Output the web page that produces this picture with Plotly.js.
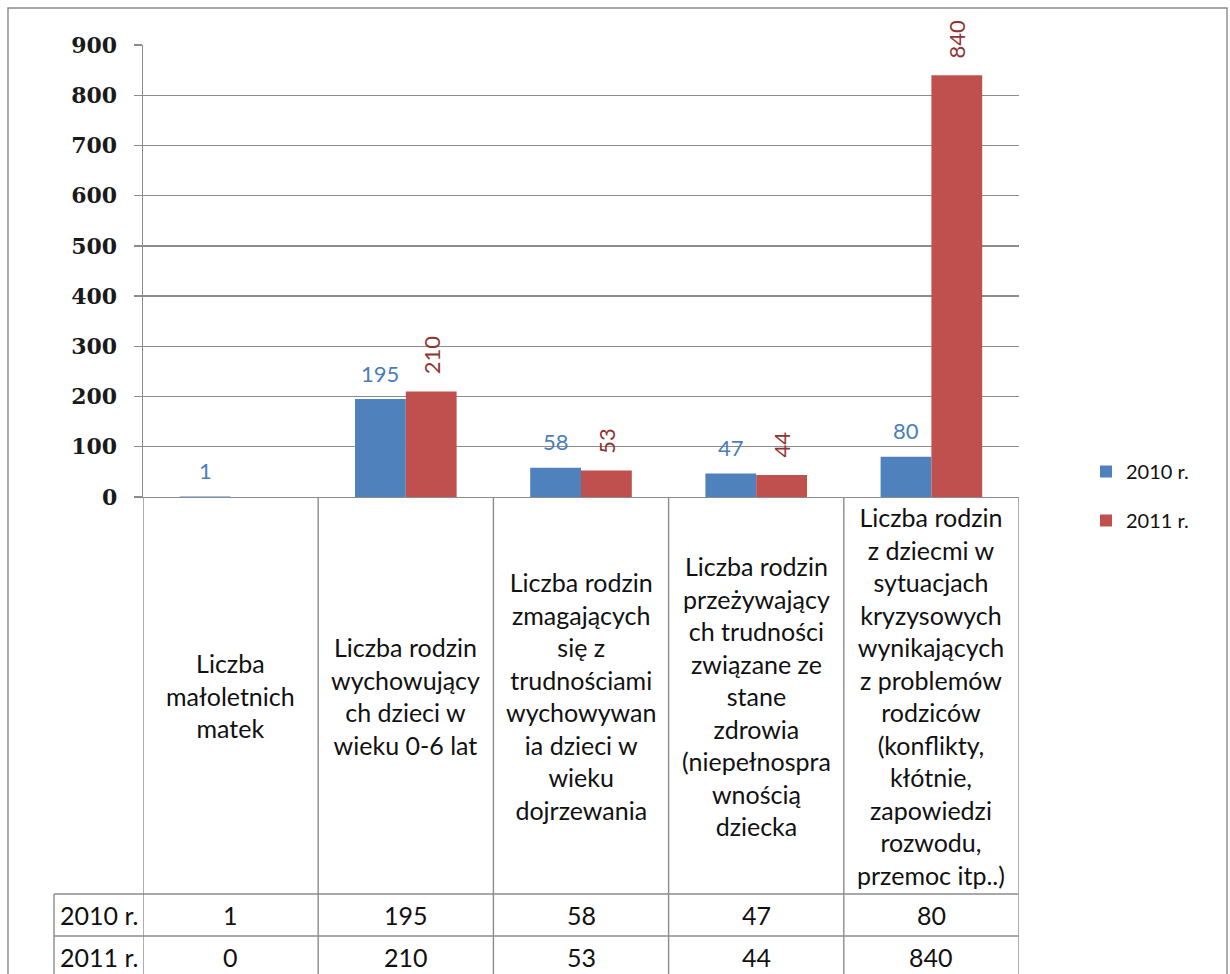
<!DOCTYPE html>
<html>
<head>
<meta charset="utf-8">
<script src="https://cdn.plot.ly/plotly-3.0.1.min.js"></script>
<style>html,body{margin:0;padding:0;background:#fff;}#chart{width:1230px;height:974px;}</style>
</head>
<body>
<div id="chart"></div>
<script>
// ---- data ----
const categories = [
  "Liczba<br>małoletnich<br>matek",
  "Liczba rodzin<br>wychowujący<br>ch dzieci w<br>wieku 0-6 lat",
  "Liczba rodzin<br>zmagających<br>się z<br>trudnościami<br>wychowywan<br>ia dzieci w<br>wieku<br>dojrzewania",
  "Liczba rodzin<br>przeżywający<br>ch trudności<br>związane ze<br>stane<br>zdrowia<br>(niepełnospra<br>wnością<br>dziecka",
  "Liczba rodzin<br>z dziecmi w<br>sytuacjach<br>kryzysowych<br>wynikających<br>z problemów<br>rodziców<br>(konflikty,<br>kłótnie,<br>zapowiedzi<br>rozwodu,<br>przemoc itp..)"
];
const seriesNames = ["2010 r.", "2011 r."];
const values2010 = [1, 195, 58, 47, 80];
const values2011 = [0, 210, 53, 44, 840];
const yTicks = [0, 100, 200, 300, 400, 500, 600, 700, 800, 900];

// ---- layout geometry (pixels) ----
const W = 1230, H = 974;
const plotL = 143, plotR = 1019, plotT = 45, plotB = 497;
const pw = plotR - plotL, ph = plotB - plotT;
const px2x = p => (p - plotL) / pw;
const py2y = p => (plotB - p) / ph;

const blue = "#4F81BD", red = "#C0504D";
const gridCol = "#8c8c8c";
const textFont = "Lato, 'Open Sans', sans-serif";
const bargap = 0.42;
const n = categories.length;
const idx = categories.map((_, i) => i);
const barPx = pw / n * (1 - bargap) / 2;

const traces = [
  {type: "bar", name: seriesNames[0], x: idx, y: values2010,
   marker: {color: blue}, legendgroup: "a", hoverinfo: "y"},
  {type: "bar", name: seriesNames[1], x: idx, y: values2011,
   marker: {color: red}, legendgroup: "b", hoverinfo: "y"}
];

const annotations = [];
// data labels
values2010.forEach((v, i) => {
  annotations.push({x: i, y: v, xref: "x", yref: "y", text: String(v), showarrow: false,
    xshift: -barPx / 2, yshift: 26, yanchor: "middle",
    font: {family: textFont, size: 22, color: "#4a7ebb"}});
});
values2011.forEach((v, i) => {
  if (v <= 0) return;
  annotations.push({x: i, y: v, xref: "x", yref: "y", text: String(v), showarrow: false,
    xshift: barPx / 2, yshift: 15, yanchor: "bottom", textangle: -90,
    font: {family: textFont, size: 22, color: "#8f3431"}});
});
// category cells
const catCenterY = (plotB + 894) / 2;
categories.forEach((c, i) => {
  annotations.push({x: i, y: py2y(catCenterY), xref: "x", yref: "paper", text: c,
    showarrow: false, yanchor: "middle", xanchor: "center", align: "center",
    font: {family: textFont, size: 25, color: "#111"}});
});
// data table rows
const rowTop = [894, 936], rowH = 42;
[values2010, values2011].forEach((arr, r) => {
  const cy = rowTop[r] + rowH / 2;
  annotations.push({x: px2x(58), y: py2y(cy), xref: "paper", yref: "paper", text: seriesNames[r],
    showarrow: false, xanchor: "left", yanchor: "middle",
    font: {family: textFont, size: 25, color: "#111"}});
  arr.forEach((v, i) => {
    annotations.push({x: i, y: py2y(cy), xref: "x", yref: "paper", text: String(v),
      showarrow: false, xanchor: "center", yanchor: "middle",
      font: {family: textFont, size: 25, color: "#111"}});
  });
});

// table & frame lines
const shapes = [];
const line = {color: gridCol, width: 1.4};
for (let i = 0; i <= n; i++) {
  shapes.push({type: "line", xref: "x", yref: "paper", x0: i - 0.5, x1: i - 0.5,
    y0: 0, y1: py2y(H + 10), line});
}
rowTop.forEach(t => {
  shapes.push({type: "line", xref: "paper", yref: "paper", x0: px2x(54), x1: px2x(1018.5),
    y0: py2y(t), y1: py2y(t), line});
});
shapes.push({type: "line", xref: "paper", yref: "paper", x0: px2x(54), x1: px2x(54),
  y0: py2y(rowTop[0]), y1: py2y(H + 10), line});
// outer chart border
shapes.push({type: "rect", xref: "paper", yref: "paper", x0: px2x(8), x1: px2x(1227),
  y0: py2y(H + 10), y1: py2y(8), line: {color: "#8a8a8a", width: 1.4}, layer: "below"});

const layout = {
  width: W, height: H,
  margin: {l: plotL, r: W - plotR, t: plotT, b: H - plotB, pad: 0},
  paper_bgcolor: "#fff", plot_bgcolor: "#fff",
  barmode: "group", bargap: bargap, bargroupgap: 0,
  showlegend: true,
  legend: {x: px2x(1086), y: py2y(452), xanchor: "left", yanchor: "top",
    font: {family: textFont, size: 20, color: "#111"}, tracegroupgap: 20,
    bgcolor: "rgba(0,0,0,0)", itemclick: false},
  xaxis: {type: "linear", range: [-0.5, n - 0.5], showticklabels: false, ticks: "",
    showgrid: false, zeroline: false, showline: true, linecolor: gridCol, linewidth: 1.4,
    fixedrange: true},
  yaxis: {range: [0, 900], tickvals: yTicks, ticktext: yTicks.map(String),
    showgrid: true, gridcolor: gridCol, gridwidth: 1.4, zeroline: false,
    showline: true, linecolor: gridCol, linewidth: 1.4,
    ticks: "outside", ticklen: 8, tickcolor: gridCol, tickwidth: 1.4,
    ticklabelstandoff: 12,
    tickfont: {family: "'DejaVu Serif', serif", size: 22, color: "#1a1a1a", weight: "bold"},
    fixedrange: true},
  annotations: annotations,
  shapes: shapes
};

Plotly.newPlot("chart", traces, layout, {displayModeBar: false, staticPlot: true});
</script>
</body>
</html>
